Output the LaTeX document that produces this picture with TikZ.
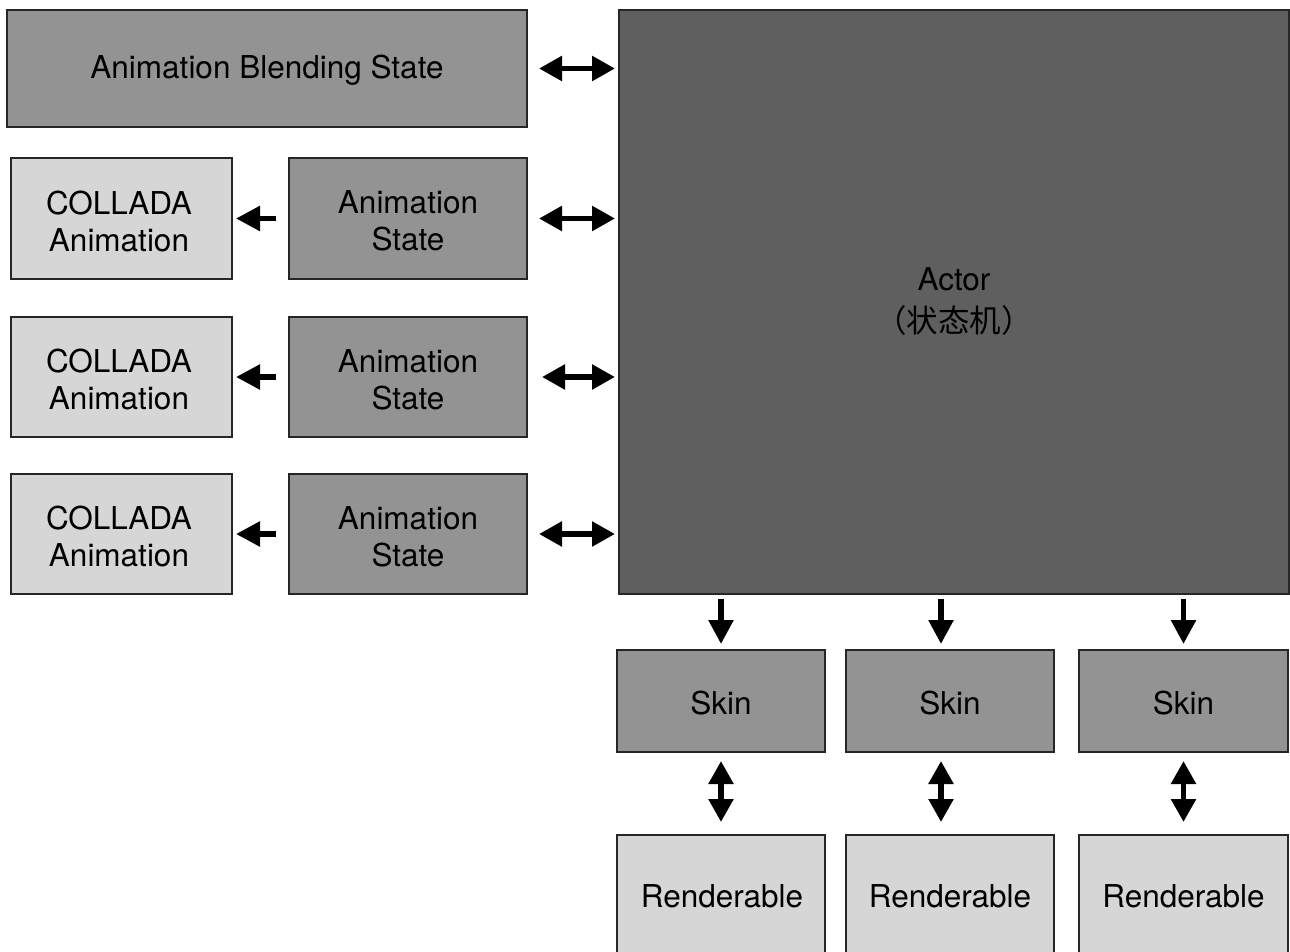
\documentclass[tikz,border=0pt]{standalone}
\usepackage{fontspec}
\setmainfont{TeX Gyre Heros}
\newfontfamily\cjk{Noto Sans CJK SC}
\usetikzlibrary{arrows.meta}
\definecolor{midgray}{RGB}{147,147,147}
\definecolor{darkgray}{RGB}{95,95,95}
\definecolor{lightgray}{RGB}{214,214,214}
\begin{document}
\begin{tikzpicture}[x=1pt,y=-1pt,
  txt/.style={font=\fontsize{31.5}{37}\selectfont, text=black, align=center, inner sep=0pt},
  box/.style={draw=black!85, line width=2pt, inner sep=0pt},
  mid/.style={box, fill=midgray},
  light/.style={box, fill=lightgray},
  dark/.style={box, fill=darkgray},
  conn/.style={line width=5.5pt},
  dbl/.style={conn, {Triangle[length=23pt,width=24pt]}-{Triangle[length=23pt,width=24pt]}},
  one/.style={conn, -{Triangle[length=24pt,width=24pt]}}
]
\useasboundingbox (0,0) rectangle (1290,952);
% top-left and actor
\node[mid, minimum width=520, minimum height=117] (blend) at (267,68.5) {};
\node[txt] (blendt) at (267,70.5) {Animation Blending State};
\node[dark, minimum width=670, minimum height=584] (actor) at (954,302) {};
\node[txt] (actort) at (954,302) {Actor\\[5pt]{\cjk （状态机）}};
% animation states
\node[mid, minimum width=238, minimum height=121] (as1) at (408,218.5) {};
\node[mid, minimum width=238, minimum height=120] (as2) at (408,377) {};
\node[mid, minimum width=238, minimum height=120] (as3) at (408,534) {};
\node[light, minimum width=221, minimum height=121] (ca1) at (121.5,218.5) {};
\node[light, minimum width=221, minimum height=120] (ca2) at (121.5,377) {};
\node[light, minimum width=221, minimum height=120] (ca3) at (121.5,534) {};
\node[txt] (as1t) at (408,221) {Animation\\State};
\node[txt] (as2t) at (408,379.5) {Animation\\State};
\node[txt] (as3t) at (408,536.5) {Animation\\State};
\node[txt] (ca1t) at (119,221) {COLLADA\\Animation};
\node[txt] (ca2t) at (119,379.5) {COLLADA\\Animation};
\node[txt] (ca3t) at (119,536.5) {COLLADA\\Animation};
% skins and renderables
\node[mid, minimum width=208, minimum height=102] (sk1) at (721,701) {};
\node[mid, minimum width=208, minimum height=102] (sk2) at (950,701) {};
\node[mid, minimum width=209, minimum height=102] (sk3) at (1183.5,701) {};
\node[txt] (sk1t) at (721,703.5) {Skin};
\node[txt] (sk2t) at (950,703.5) {Skin};
\node[txt] (sk3t) at (1183.5,703.5) {Skin};
\node[light, minimum width=208, minimum height=135] (rd1) at (721,902.5) {};
\node[light, minimum width=208, minimum height=135] (rd2) at (950,902.5) {};
\node[light, minimum width=209, minimum height=135] (rd3) at (1183.5,902.5) {};
\node[txt] (rt1) at (722,896.5) {Renderable};
\node[txt] (rt2) at (950,896.5) {Renderable};
\node[txt] (rt3) at (1183.5,896.5) {Renderable};
% horizontal double arrows
\draw[dbl, shorten <=11pt, shorten >=3pt] (blend.east) -- (blend.east -| actor.west);
\draw[dbl, shorten <=11pt, shorten >=3pt] (as1.east) -- (as1.east -| actor.west);
\draw[dbl, shorten <=14pt, shorten >=3pt] (as2.east) -- (as2.east -| actor.west);
\draw[dbl, shorten <=11pt, shorten >=3pt] (as3.east) -- (as3.east -| actor.west);
% left arrows
\draw[one, shorten <=12pt, shorten >=3pt] (as1.west) -- (ca1.east);
\draw[one, shorten <=12pt, shorten >=3pt] (as2.west) -- (ca2.east);
\draw[one, shorten <=12pt, shorten >=3pt] (as3.west) -- (ca3.east);
% down arrows
\draw[one, shorten <=4pt, shorten >=5pt] (sk1.north |- actor.south) -- (sk1.north);
\draw[one, shorten <=4pt, shorten >=5pt] ([xshift=-9pt]sk2.north |- actor.south) -- ([xshift=-9pt]sk2.north);
\draw[one, shorten <=4pt, shorten >=5pt] (sk3.north |- actor.south) -- (sk3.north);
% vertical double arrows
\draw[dbl, shorten <=8pt, shorten >=12pt] (sk1.south) -- (rd1.north);
\draw[dbl, shorten <=8pt, shorten >=12pt] ([xshift=-9pt]sk2.south) -- ([xshift=-9pt]rd2.north);
\draw[dbl, shorten <=8pt, shorten >=12pt] (sk3.south) -- (rd3.north);
\end{tikzpicture}
\end{document}
